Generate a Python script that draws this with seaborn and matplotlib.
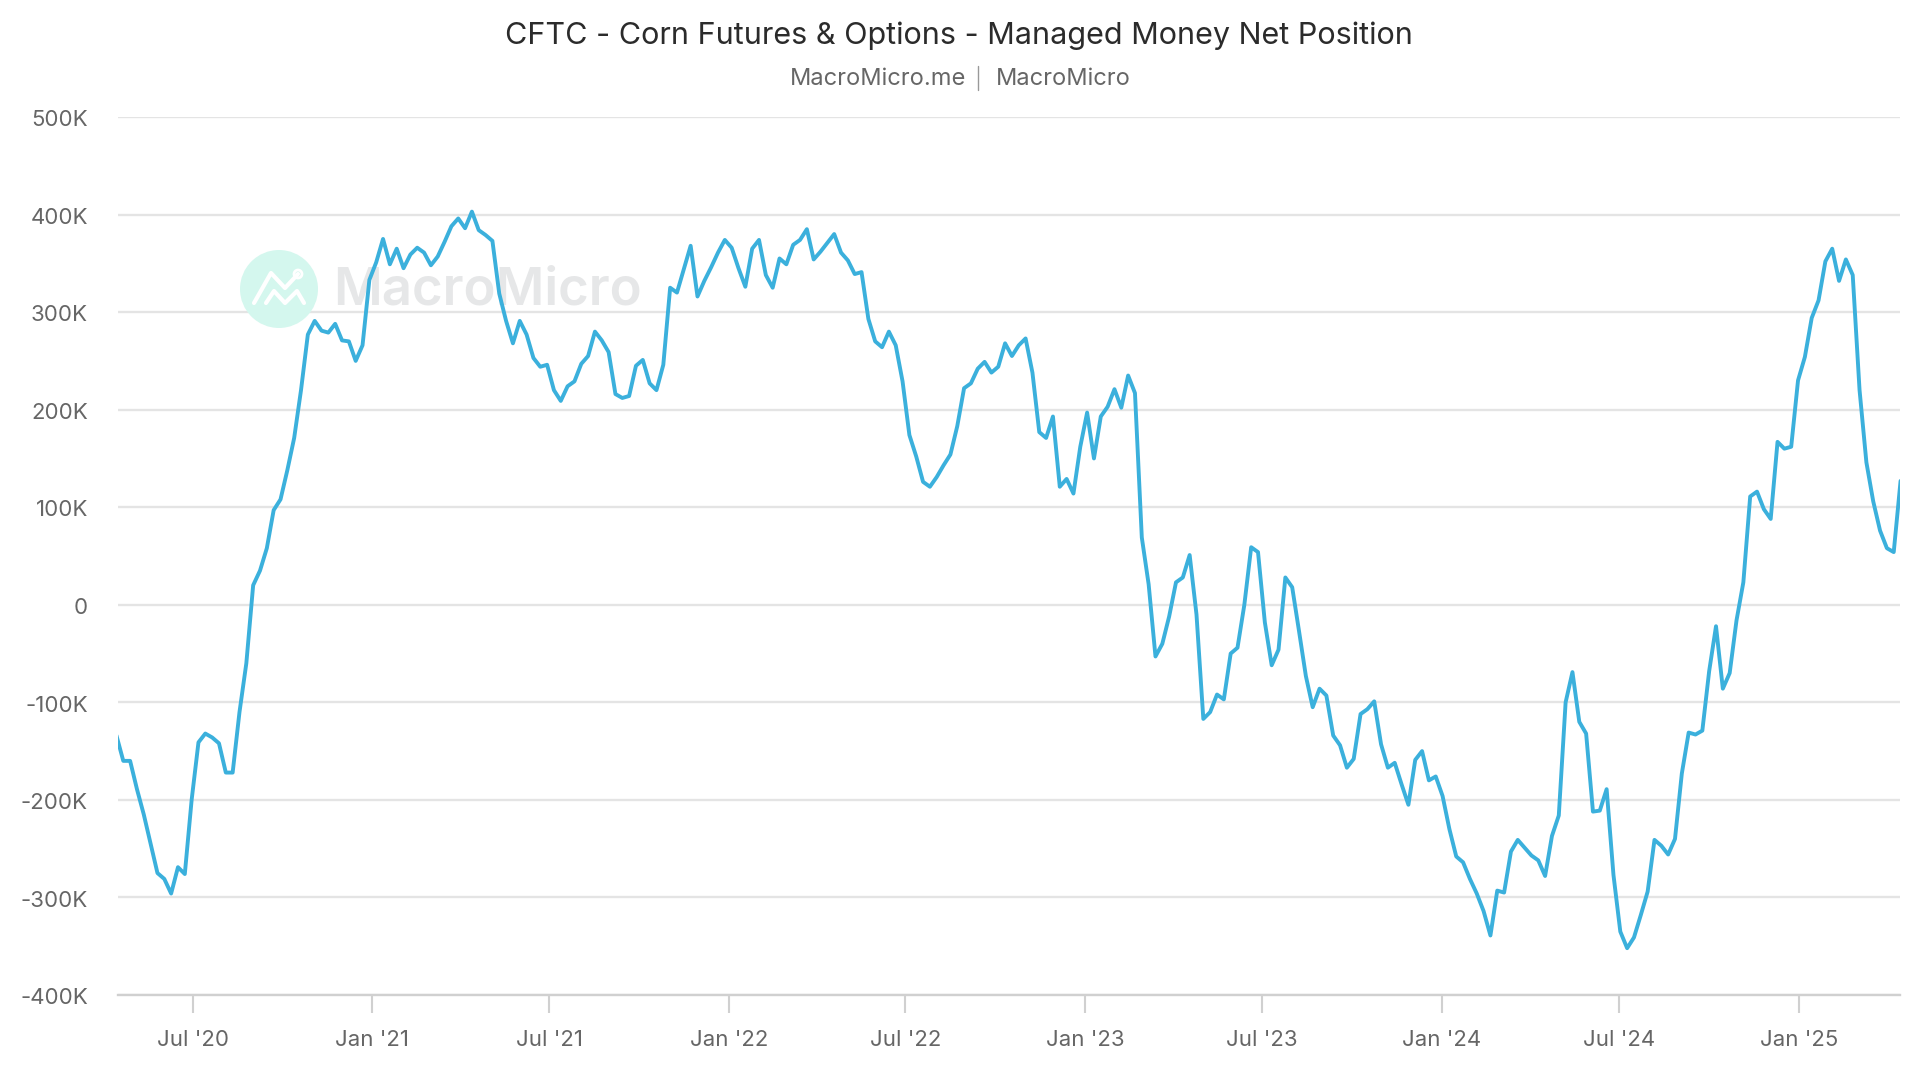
import pandas as pd
import seaborn as sns
import matplotlib.pyplot as plt
import matplotlib.dates as mdates
import matplotlib.transforms as mtrans
from matplotlib.lines import Line2D
from matplotlib.patches import Circle

# weekly CFTC report dates, values in thousands of contracts
start_date = '2020-04-14'
net_position = [
    -134, -160, -160, -189, -215, -245, -275, -281, -296, -269,
    -276, -200, -141, -132, -136, -142, -172, -172, -110, -60,
    20, 35, 58, 97, 108, 138, 171, 220, 277, 291,
    281, 279, 288, 271, 270, 250, 266, 333, 351, 375,
    349, 365, 345, 359, 366, 361, 348, 357, 372, 388,
    396, 386, 403, 384, 379, 373, 319, 291, 268, 291,
    277, 253, 244, 246, 220, 209, 224, 229, 247, 255,
    280, 271, 259, 216, 212, 214, 245, 251, 227, 220,
    246, 325, 320, 344, 368, 316, 332, 346, 361, 374,
    366, 345, 326, 365, 374, 338, 325, 355, 349, 369,
    374, 385, 354, 362, 371, 380, 361, 353, 339, 341,
    293, 270, 264, 280, 266, 229, 174, 152, 126, 121,
    131, 143, 154, 183, 222, 227, 242, 249, 238, 244,
    268, 255, 266, 273, 238, 177, 171, 193, 121, 129,
    114, 162, 197, 150, 193, 203, 221, 202, 235, 217,
    69, 21, -53, -40, -12, 23, 28, 51, -10, -117,
    -110, -92, -97, -50, -44, 0, 59, 54, -18, -62,
    -46, 28, 18, -27, -73, -105, -86, -93, -134, -144,
    -167, -158, -112, -107, -99, -143, -167, -162, -184, -205,
    -159, -150, -180, -176, -196, -230, -258, -264, -281, -296,
    -314, -339, -293, -295, -253, -241, -249, -257, -262, -278,
    -237, -216, -100, -69, -120, -132, -212, -211, -189, -277,
    -335, -352, -341, -318, -294, -241, -247, -256, -240, -173,
    -131, -133, -129, -68, -22, -86, -70, -16, 23, 111,
    116, 98, 88, 167, 160, 162, 230, 254, 294, 312,
    352, 365, 332, 354, 338, 220, 146, 106, 76, 58,
    54, 127,
]
y_ticks = [-400, -300, -200, -100, 0, 100, 200, 300, 400, 500]
y_labels = ['-400K', '-300K', '-200K', '-100K', '0', '100K', '200K', '300K', '400K', '500K']
x_ticks = ['2020-07-01', '2021-01-01', '2021-07-01', '2022-01-01', '2022-07-01',
           '2023-01-01', '2023-07-01', '2024-01-01', '2024-07-01', '2025-01-01']
x_labels = ["Jul '20", "Jan '21", "Jul '21", "Jan '22", "Jul '22",
            "Jan '23", "Jul '23", "Jan '24", "Jul '24", "Jan '25"]

df = pd.DataFrame({
    'date': pd.date_range(start_date, periods=len(net_position), freq='7D'),
    'net': net_position,
})

sns.set_theme(style='white')
plt.rcParams['font.family'] = ['Inter', 'DejaVu Sans']

fig = plt.figure(figsize=(19.2, 10.8), dpi=100)
ax = fig.add_axes([118.4 / 1920, 1 - 995 / 1080, (1900 - 118.4) / 1920, (995 - 117) / 1080])

# pixel coordinates of the picture, y going down
pix = mtrans.Affine2D().scale(1 / 1920, -1 / 1080).translate(0, 1) + fig.transFigure

sns.lineplot(data=df, x='date', y='net', ax=ax, color='#3BB0DC', linewidth=2.8,
             solid_joinstyle='round', zorder=5)

ax.set_xlim(pd.Timestamp('2020-04-16'), pd.Timestamp('2025-04-14 10:00'))
ax.set_ylim(-400, 500)
ax.set_xlabel('')
ax.set_ylabel('')
ax.set_yticks(y_ticks)
ax.set_yticklabels(y_labels)
ax.set_xticks([mdates.date2num(pd.Timestamp(d)) for d in x_ticks])
ax.set_xticklabels(x_labels)
ax.grid(axis='y', color='#E4E4E4', linewidth=1.7)
ax.set_axisbelow(True)
ax.tick_params(axis='y', length=0, pad=22, labelsize=16, labelcolor='#666666')
ax.tick_params(axis='x', length=13, width=1.5, color='#D0D0D0', pad=12.5, labelsize=16, labelcolor='#666666', bottom=True)
for name in ['top', 'left', 'right']:
    ax.spines[name].set_visible(False)
ax.spines['bottom'].set_color('#D0D0D0')
ax.spines['bottom'].set_linewidth(1.7)

# y labels sit about a pixel lower than the grid lines
nudge = mtrans.ScaledTranslation(0, -1.2 / 100, fig.dpi_scale_trans)
for label in ax.get_yticklabels():
    label.set_transform(label.get_transform() + nudge)

# watermark
ax.add_patch(Circle((279, 289), 39, transform=pix, color='#D4F7EE', zorder=2, lw=0))
icon_a = [(254, 303), (271, 273), (285, 288), (298, 274)]
icon_b = [(266, 303), (274, 291), (285, 303), (297, 291), (304, 303)]
for icon in [icon_a, icon_b]:
    ax.add_line(Line2D([p[0] for p in icon], [p[1] for p in icon], transform=pix,
                       color='white', linewidth=3, zorder=3, solid_capstyle='round'))
ax.add_patch(Circle((298, 274), 4, transform=pix, facecolor='none', edgecolor='white', lw=2, zorder=3))
ax.text(333, 291, 'MacroMicro', transform=pix, color='#E6E7E8', fontsize=38, fontweight='semibold',
        ha='left', va='center', zorder=2)

# title block
fig.text(959, 36, 'CFTC - Corn Futures & Options - Managed Money Net Position', transform=pix,
         ha='center', va='center', fontsize=22, color='#2B2B2B')
fig.text(790, 79, 'MacroMicro.me', transform=pix, ha='left', va='center', fontsize=17, color='#666666')
fig.text(996, 79, 'MacroMicro', transform=pix, ha='left', va='center', fontsize=17, color='#666666')
fig.add_artist(Line2D([978, 978], [66, 90], transform=pix, color='#999999', linewidth=1))

plt.savefig('out.png', dpi=100)
